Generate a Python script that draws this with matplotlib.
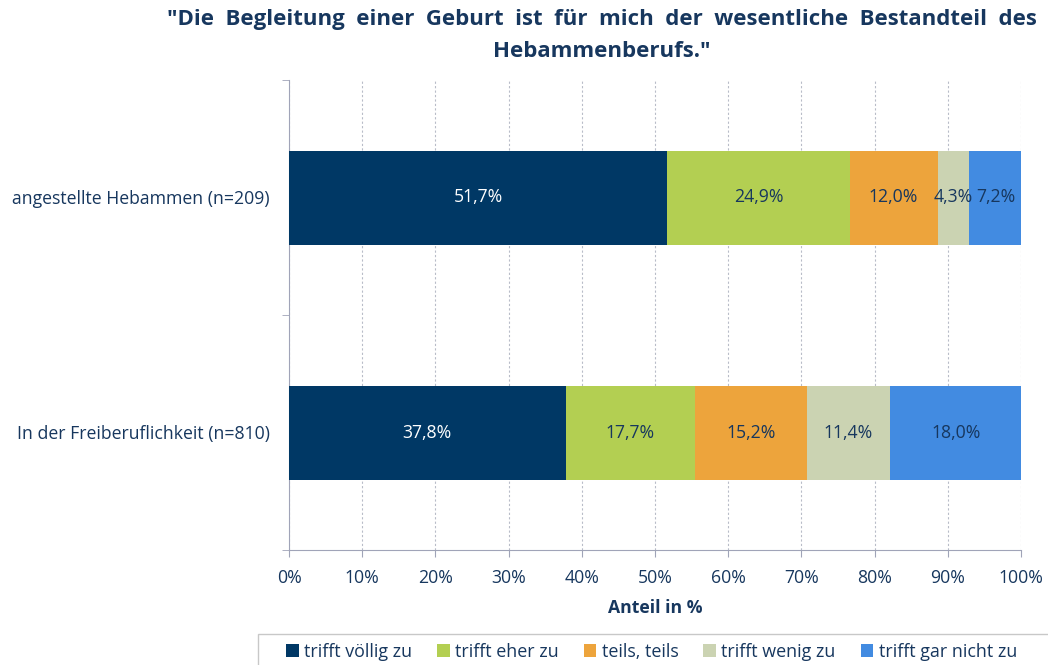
import numpy as np
import matplotlib.pyplot as plt
from matplotlib.patches import Rectangle

plt.rcParams['font.family'] = ['Open Sans', 'DejaVu Sans']

groups = ['angestellte Hebammen (n=209)', 'In der Freiberuflichkeit (n=810)']
answers = ['trifft völlig zu', 'trifft eher zu', 'teils, teils', 'trifft wenig zu', 'trifft gar nicht zu']
values = {
    'trifft völlig zu': [51.7, 37.8],
    'trifft eher zu': [24.9, 17.7],
    'teils, teils': [12.0, 15.2],
    'trifft wenig zu': [4.3, 11.4],
    'trifft gar nicht zu': [7.2, 18.0],
}
colors = ['#003865', '#B3CF52', '#EDA43C', '#CBD3B2', '#428BE1']
label_colors = ['white', '#17375E', '#17375E', '#17375E', '#17375E']
txt = '#17375E'
fs = 12.7

fig = plt.figure(figsize=(10.48, 6.65), dpi=100)
ax = fig.add_axes([289/1048, 1-550/665, (1021-289)/1048, 470/665])

ypos = np.arange(len(groups))
left = np.zeros(len(groups))
for ans, col, lc in zip(answers, colors, label_colors):
    v = np.array(values[ans])
    ax.barh(ypos, v, left=left, height=0.4, color=col, label=ans, zorder=3)
    for y, l, w in zip(ypos, left, v):
        ax.text(l + w/2, y, f'{w:.1f}%'.replace('.', ','), ha='center', va='center',
                color=lc, fontsize=fs, zorder=4)
    left += v

ax.set_xlim(0, 100)
ax.set_ylim(1.5, -0.5)
ax.set_xticks(np.arange(0, 101, 10))
ax.set_xticklabels([f'{t}%' for t in range(0, 101, 10)], fontsize=fs, color=txt)
ax.set_yticks(ypos)
ax.set_yticklabels(groups, fontsize=fs, color=txt)
ax.set_yticks([-0.5, 0.5, 1.5], minor=True)
ax.tick_params(axis='y', which='major', length=0, pad=14)
ax.tick_params(axis='y', which='minor', length=5, color='#A0A4B8')
ax.tick_params(axis='x', length=5, color='#A0A4B8', pad=9)
ax.grid(axis='x', color='#B8BCC8', linestyle=(0, (2, 2)), linewidth=0.8, zorder=0)
for s in ['top', 'right']:
    ax.spines[s].set_visible(False)
for s in ['left', 'bottom']:
    ax.spines[s].set_color('#A0A4B8')
ax.set_xlabel('Anteil in %', fontsize=fs, fontweight='bold', color=txt, labelpad=8)

fig.text(602/1048, 1-9/665,
         '"Die  Begleitung  einer  Geburt  ist  für  mich  der  wesentliche  Bestandteil  des\nHebammenberufs."',
         ha='center', va='top', fontsize=16, fontweight='bold', color=txt, linespacing=1.7)

# legend frame (runs off the bottom/right edge like the original)
fig.patches.append(Rectangle((258/1048, -0.05), 1.0, 0.05 + 1 - 634/665, transform=fig.transFigure,
                             fill=False, edgecolor='#C8C8C8', linewidth=1.0))

leg = fig.legend(loc='center left', bbox_to_anchor=(286/1048, 1-652/665), ncol=5,
                 frameon=False, fontsize=12.9,
                 handlelength=0.7, handleheight=0.7, handletextpad=0.3, columnspacing=1.4,
                 borderpad=0, borderaxespad=0)
for t in leg.get_texts():
    t.set_color(txt)

fig.savefig('out.png', dpi=100)
